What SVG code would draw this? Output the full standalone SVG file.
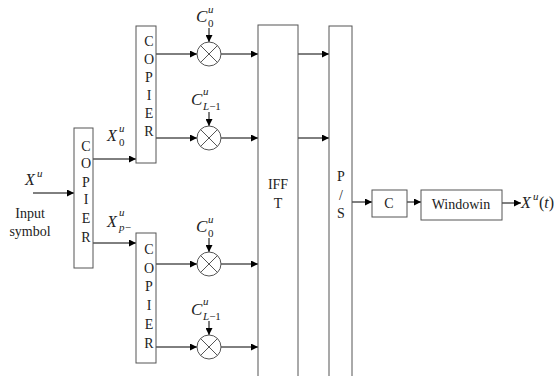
<svg xmlns="http://www.w3.org/2000/svg" width="558" height="376" viewBox="0 0 558 376">
<style>
text{font-family:'Liberation Serif','DejaVu Serif','Times New Roman',serif}
.box{fill:#fff;stroke:#555;stroke-width:1}
.ln{stroke:#555;stroke-width:1;fill:none}
.arr{stroke:#000;stroke-width:1;fill:none;marker-end:url(#ah)}
.t{font-size:14px;fill:#222;text-anchor:middle}
.mi{font-style:italic;font-size:17px;fill:#222}
.sm{font-style:italic;font-size:11px;fill:#222}
.su{font-style:normal;font-size:11px;fill:#222}
.mul{fill:#fff;stroke:#555;stroke-width:1}
</style>
<defs>
<marker id="ah" viewBox="0 0 10 10" refX="10" refY="5" markerWidth="8" markerHeight="7" markerUnits="userSpaceOnUse" orient="auto">
<path d="M0,0 L10,5 L0,10 z" fill="#000"/>
</marker>
</defs>
<rect width="558" height="376" fill="#fff"/>

<g id="connectors">
<line class="arr" x1="33" y1="193" x2="74" y2="193"/>
<line class="arr" x1="93" y1="159" x2="136" y2="159"/>
<line class="arr" x1="93" y1="243" x2="136" y2="243"/>
<line class="arr" x1="156" y1="54" x2="197" y2="54"/>
<line class="arr" x1="156" y1="138" x2="197" y2="138"/>
<line class="arr" x1="156" y1="264" x2="197" y2="264"/>
<line class="arr" x1="156" y1="347" x2="197" y2="347"/>
<line class="arr" x1="221" y1="54" x2="258" y2="54"/>
<line class="arr" x1="221" y1="138" x2="258" y2="138"/>
<line class="arr" x1="221" y1="264" x2="258" y2="264"/>
<line class="arr" x1="221" y1="347" x2="258" y2="347"/>
<line class="arr" x1="209" y1="28" x2="209" y2="42"/>
<line class="arr" x1="209" y1="112" x2="209" y2="126"/>
<line class="arr" x1="209" y1="238" x2="209" y2="252"/>
<line class="arr" x1="209" y1="321" x2="209" y2="335"/>
<line class="arr" x1="298" y1="54" x2="329" y2="54"/>
<line class="arr" x1="298" y1="138" x2="329" y2="138"/>
<line class="arr" x1="352" y1="202" x2="372" y2="202"/>
<line class="arr" x1="407" y1="202" x2="421" y2="202"/>
<line class="arr" x1="502" y1="203" x2="521" y2="203"/>
</g>

<g id="input-label">
<text class="mi" x="25" y="185" style="font-size:16px">X</text><text class="sm" x="37" y="177">u</text>
<text class="t" x="30" y="218">Input</text>
<text class="t" x="30" y="236">symbol</text>
</g>

<g id="copier-left">
<rect class="box" x="74" y="128" width="19" height="140"/>
<text class="t" x="86" y="151">C</text>
<text class="t" x="86" y="168">O</text>
<text class="t" x="86" y="187">P</text>
<text class="t" x="86" y="204">I</text>
<text class="t" x="86" y="223">E</text>
<text class="t" x="86" y="242">R</text>
</g>

<g id="label-x0">
<text class="mi" x="107" y="141" style="font-size:16px">X</text><text class="sm" x="119" y="132">u</text><text class="su" x="119" y="146">0</text>
</g>
<g id="label-xp">
<text class="mi" x="107" y="227" style="font-size:16px">X</text><text class="sm" x="119" y="216">u</text><text class="sm" x="119" y="231">p−</text>
</g>

<g id="copier-top">
<rect class="box" x="136" y="26" width="20" height="137"/>
<text class="t" x="149" y="46">C</text>
<text class="t" x="149" y="64">O</text>
<text class="t" x="149" y="82">P</text>
<text class="t" x="149" y="100">I</text>
<text class="t" x="149" y="118">E</text>
<text class="t" x="149" y="136">R</text>
</g>

<g id="copier-bottom">
<rect class="box" x="136" y="233" width="20" height="130"/>
<text class="t" x="149" y="254">C</text>
<text class="t" x="149" y="273">O</text>
<text class="t" x="149" y="291">P</text>
<text class="t" x="149" y="310">I</text>
<text class="t" x="149" y="329">E</text>
<text class="t" x="149" y="348">R</text>
</g>

<g id="mult-1">
<circle class="mul" cx="209" cy="54" r="12"/>
<path class="ln" d="M200.5,45.5 L217.5,62.5 M217.5,45.5 L200.5,62.5"/>
<text class="mi" x="196" y="22">C</text><text class="sm" x="208" y="13">u</text><text class="su" x="208" y="27">0</text>
</g>
<g id="mult-2">
<circle class="mul" cx="209" cy="138" r="12"/>
<path class="ln" d="M200.5,129.5 L217.5,146.5 M217.5,129.5 L200.5,146.5"/>
<text class="mi" x="191" y="105">C</text><text class="sm" x="203" y="95">u</text><text class="sm" x="203" y="110">L<tspan class="su">−1</tspan></text>
</g>
<g id="mult-3">
<circle class="mul" cx="209" cy="264" r="12"/>
<path class="ln" d="M200.5,255.5 L217.5,272.5 M217.5,255.5 L200.5,272.5"/>
<text class="mi" x="196" y="232">C</text><text class="sm" x="208" y="223">u</text><text class="su" x="208" y="237">0</text>
</g>
<g id="mult-4">
<circle class="mul" cx="209" cy="347" r="12"/>
<path class="ln" d="M200.5,338.5 L217.5,355.5 M217.5,338.5 L200.5,355.5"/>
<text class="mi" x="191" y="315">C</text><text class="sm" x="203" y="305">u</text><text class="sm" x="203" y="320">L<tspan class="su">−1</tspan></text>
</g>

<g id="ifft">
<rect class="box" x="258" y="25" width="40" height="360"/>
<text class="t" x="278" y="189">IFF</text>
<text class="t" x="278" y="208">T</text>
</g>

<g id="ps">
<rect class="box" x="329" y="26" width="23" height="360"/>
<text class="t" x="341" y="181">P</text>
<text class="t" x="341" y="200">/</text>
<text class="t" x="341" y="218">S</text>
</g>

<g id="cp">
<rect class="box" x="372" y="190" width="35" height="27"/>
<text class="t" x="389" y="208">C</text>
</g>

<g id="windowing">
<rect class="box" x="421" y="190" width="81" height="30"/>
<text class="t" x="461" y="209">Windowin</text>
</g>

<g id="output-label">
<text class="mi" x="521" y="208" style="font-size:16px">X</text><text class="sm" x="533" y="200">u</text><text class="mi" x="539" y="208" style="font-style:normal;font-size:16px">(<tspan style="font-style:italic">t</tspan>)</text>
</g>
</svg>
